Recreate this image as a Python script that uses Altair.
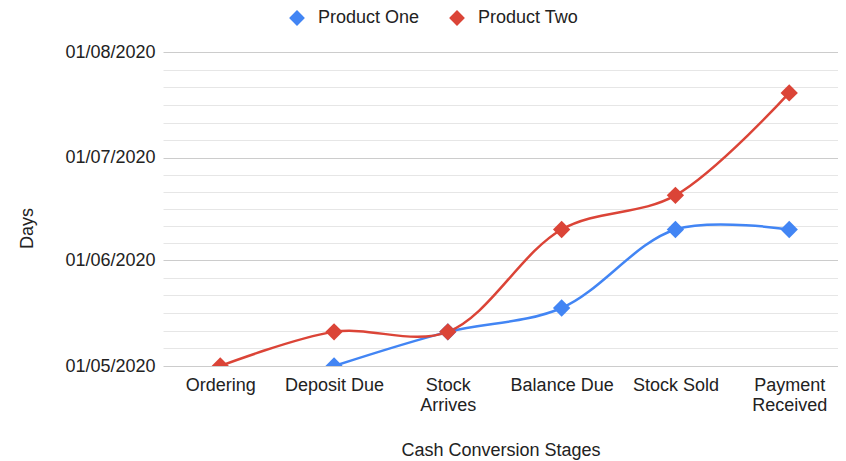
import altair as alt
import pandas as pd

stages = ["Ordering", "Deposit Due", "Stock Arrives", "Balance Due", "Stock Sold", "Payment Received"]
product_one = [None, "2020-05-01", "2020-05-11", "2020-05-18", "2020-06-10", "2020-06-10"]
product_two = ["2020-05-01", "2020-05-11", "2020-05-11", "2020-06-10", "2020-06-20", "2020-07-20"]
series_names = ["Product One", "Product Two"]
series_colors = ["#4285f4", "#db4437"]
major_ticks = ["2020-05-01", "2020-06-01", "2020-07-01", "2020-08-01"]

rows = []
for name, vals in zip(series_names, [product_one, product_two]):
    for i, (s, v) in enumerate(zip(stages, vals)):
        rows.append({"stage": s, "idx": i, "series": name, "date": v})
df = pd.DataFrame(rows)

def ms(d):
    return int(pd.Timestamp(d, tz="UTC").value // 10**6)

major_ms = [ms(d) for d in major_ticks]
tick_ms = []
for a, b in zip(major_ms[:-1], major_ms[1:]):
    for k in range(6):
        tick_ms.append(int(round(a + (b - a) * k / 6)))
tick_ms.append(major_ms[-1])

major_test = "indexof(%s, time(datum.value)) >= 0" % str(major_ms)

FONT = "Liberation Sans"

x_enc = alt.X(
    "stage:N",
    sort=stages,
    scale=alt.Scale(type="point", padding=0.466, align=0.54),
    axis=alt.Axis(
        title="Cash Conversion Stages",
        labelAngle=0,
        labelFontSize=18,
        labelColor="#222222",
        labelPadding=10,
        labelLineHeight=20,
        labelExpr="length(datum.label) > 12 ? split(datum.label, ' ') : datum.label",
        labelBaseline="top",
        ticks=False,
        domain=False,
        grid=False,
        titleFontSize=18,
        titleFontWeight="normal",
        titleColor="#222222",
        titleY=84,
        titleBaseline="middle",
    ),
)

y_enc = alt.Y(
    "date:T",
    scale=alt.Scale(
        type="utc",
        domain=[alt.DateTime(year=2020, month=5, date=1, utc=True),
                alt.DateTime(year=2020, month=8, date=1, utc=True)],
        nice=False,
    ),
    axis=alt.Axis(
        title="Days",
        values=tick_ms,
        format="%d/%m/%Y",
        labelExpr=major_test + " ? datum.label : ''",
        labelFontSize=18,
        labelColor="#222222",
        labelPadding=8,
        ticks=False,
        domain=False,
        grid=True,
        gridColor=alt.condition(major_test, alt.value("#cccccc"), alt.value("#e6e6e6")),
        gridWidth=1,
        titleFontSize=18,
        titleFontWeight="normal",
        titleColor="#222222",
        titleX=-136,
        titleY=176,
        titleBaseline="middle",
        titleAlign="center",
    ),
)

color_enc = alt.Color(
    "series:N",
    scale=alt.Scale(domain=series_names, range=series_colors),
    legend=alt.Legend(
        title=None,
        orient="none",
        direction="horizontal",
        legendX=125,
        legendY=-43,
        symbolType="diamond",
        symbolSize=250,
        symbolStrokeWidth=0,
        labelFontSize=18,
        labelColor="#222222",
        labelOffset=12,
        columnPadding=28,
    ),
)

base = alt.Chart(df)

lines = base.mark_line(interpolate="catmull-rom", strokeWidth=2.5, clip=True).encode(
    x=x_enc, y=y_enc, color=color_enc, order="idx:Q"
)
points = base.mark_point(shape="diamond", filled=True, size=300, opacity=1, clip=True).encode(
    x=x_enc, y=y_enc, color=color_enc
)

chart = alt.layer(lines, points).properties(
    width=675,
    height=314,
    padding={"left": 155, "top": 44, "right": 0, "bottom": 94},
    autosize=alt.AutoSizeParams(type="none"),
).configure(
    font=FONT,
).configure_view(stroke=None)

chart.save("out.html", embed_options={"renderer": "svg", "actions": False})
